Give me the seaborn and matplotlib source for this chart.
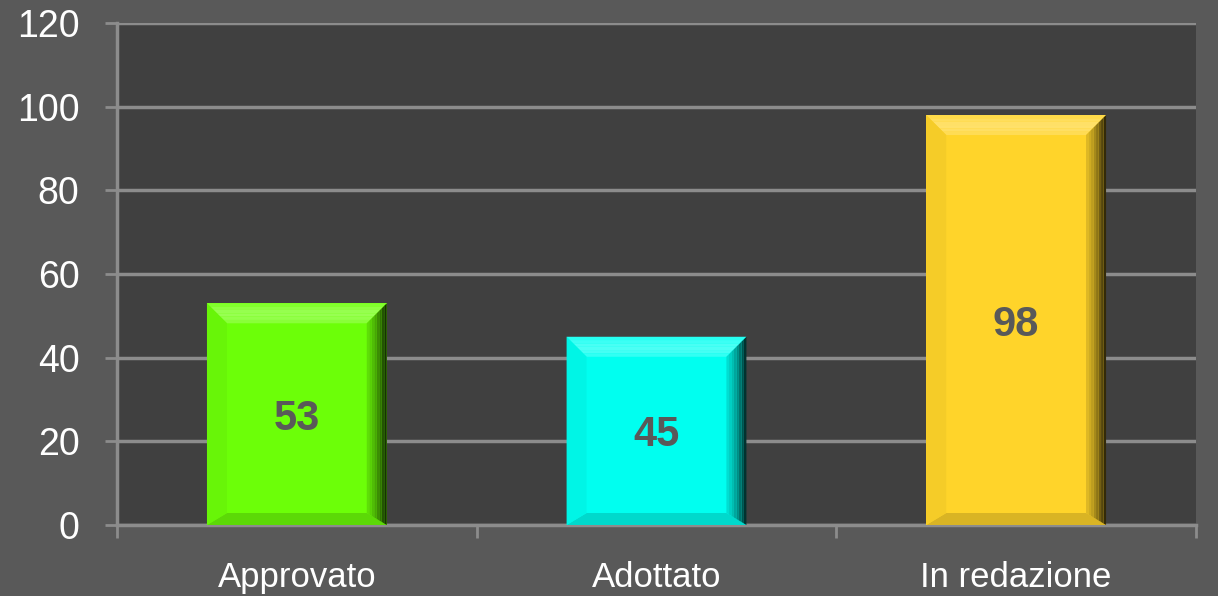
import matplotlib.pyplot as plt
import matplotlib.colors as mcolors
from matplotlib.patches import Polygon
import seaborn as sns
import pandas as pd
import numpy as np

categories = ['Approvato', 'Adottato', 'In redazione']
values = [53, 45, 98]
bar_colors = ['#6cff08', '#00fff0', '#ffd42a']
y_ticks = [0, 20, 40, 60, 80, 100, 120]

sns.set_theme(style="dark")
plt.rcParams['font.family'] = ['Liberation Sans', 'DejaVu Sans']

df = pd.DataFrame({'Stato': categories, 'Numero': values})

fig = plt.figure(figsize=(12.18, 5.96), dpi=100)
fig.patch.set_facecolor('#595959')
ax = fig.add_axes([0.0961, 0.1191, 0.8858, 0.8423])
ax.set_facecolor('#404040')

sns.barplot(data=df, x='Stato', y='Numero', hue='Stato', palette=bar_colors,
            width=0.5, saturation=1, legend=False, ax=ax, zorder=3,
            edgecolor='none', linewidth=0)

ax.set_ylim(0, 120)
ax.set_xlim(-0.5, len(categories) - 0.5)
ax.set_yticks(y_ticks)
ax.set_xticks(np.arange(len(categories) + 1) - 0.5, minor=True)
ax.tick_params(axis='x', which='major', bottom=False, length=0, colors='white', labelsize=25, pad=26)
ax.tick_params(axis='x', which='minor', bottom=True, length=9, width=2, color='#8c8c8c', direction='out')
ax.tick_params(axis='y', left=True, length=9, width=2, color='#8c8c8c', direction='out',
               labelcolor='white', labelsize=27, pad=18)
ax.yaxis.grid(True, color='#8c8c8c', linewidth=2.5, zorder=1)
ax.xaxis.grid(False)
ax.set_axisbelow(True)
ax.set_xlabel('')
ax.set_ylabel('')
for side in ['top', 'right']:
    ax.spines[side].set_visible(False)
for side in ['left', 'bottom']:
    ax.spines[side].set_color('#8c8c8c')
    ax.spines[side].set_linewidth(2.5)

# bevel effect on each bar, sized in pixels via the axes transform
fig.canvas.draw()
inv = ax.transData.inverted()
x0p, y0p = ax.transData.transform((0, 0))
dx = inv.transform((x0p + 20, y0p))[0] - 0
dy = inv.transform((x0p, y0p + 20))[1] - 0

def shade(c, f):
    r = np.array(mcolors.to_rgb(c))
    if f > 0:
        r = r + (1 - r) * f
    else:
        r = r * (1 + f)
    return np.clip(r, 0, 1)

for patch, col in zip(ax.patches, bar_colors):
    x = patch.get_x()
    w = patch.get_width()
    h = patch.get_height()
    xl, xr, yb, yt = x, x + w, 0, h
    # top band, lighter toward the middle
    n = 6
    for i in range(n):
        fa, fb = i / n, (i + 1) / n
        ax.add_patch(Polygon([(xl + dx * fa, yt - dy * fa), (xr - dx * fa, yt - dy * fa),
                              (xr - dx * fb, yt - dy * fb), (xl + dx * fb, yt - dy * fb)],
                             closed=True, facecolor=shade(col, 0.05 + 0.25 * np.sin(np.pi * fb * 0.8)),
                             edgecolor='none', zorder=4))
    # bottom band
    ax.add_patch(Polygon([(xl, yb), (xr, yb), (xr - dx, yb + dy * 0.6), (xl + dx, yb + dy * 0.6)],
                         closed=True, facecolor=shade(col, -0.15), edgecolor='none', zorder=4))
    # left band
    ax.add_patch(Polygon([(xl, yb), (xl, yt), (xl + dx, yt - dy), (xl + dx, yb + dy * 0.6)],
                         closed=True, facecolor=shade(col, -0.04), edgecolor='none', zorder=4))
    # right band with gradient strips
    n = 8
    for i in range(n):
        a = xr - dx + dx * i / n
        b = xr - dx + dx * (i + 1) / n
        fa = i / n
        fb = (i + 1) / n
        ax.add_patch(Polygon([(a, yt - dy * (1 - fa)), (b, yt - dy * (1 - fb)),
                              (b, yb + dy * 0.6 * (1 - fb)), (a, yb + dy * 0.6 * (1 - fa))],
                             closed=True, facecolor=shade(col, -0.1 - 0.7 * fb ** 1.5),
                             edgecolor='none', zorder=4))
    ax.text(x + w / 2, h / 2, f'{h:.0f}', ha='center', va='center_baseline', fontsize=30,
            fontweight='bold', color='#595959', zorder=5)

fig.savefig('out.png', dpi=100, facecolor=fig.get_facecolor())
